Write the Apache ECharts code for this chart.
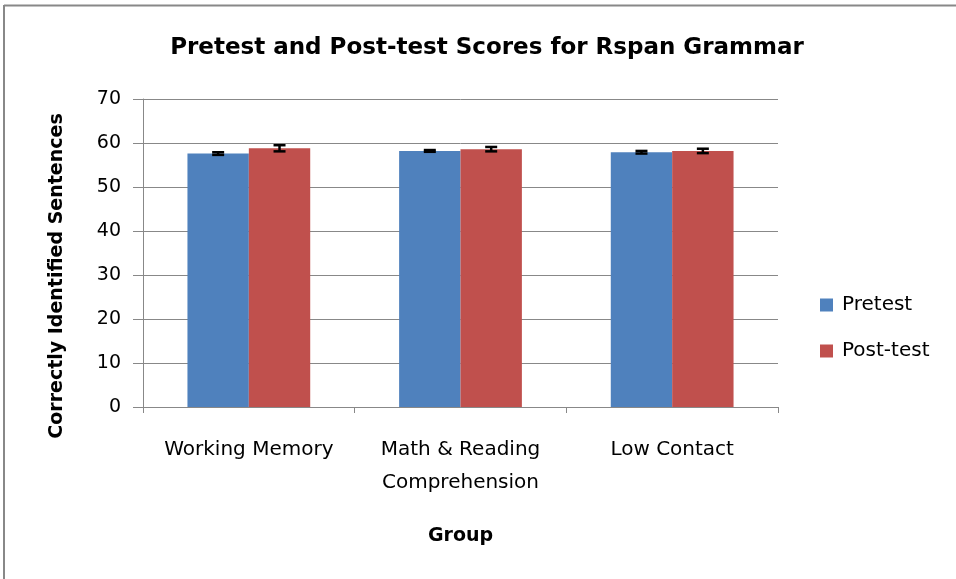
<!DOCTYPE html>
<html>
<head>
  <meta charset="UTF-8">
  <title>Rspan Grammar</title>
  <style>
    html, body { margin: 0; padding: 0; background: #fff; }
    #chart { width: 956px; height: 579px; }
  </style>
</head>
<body>
  <div id="chart"></div>
  <script src="https://cdn.jsdelivr.net/npm/echarts@6/dist/echarts.min.js"></script>
  <script>
    // values
    const groups = ['Working Memory', 'Math & Reading\nComprehension', 'Low Contact'];
    const pretest = [57.6, 58.2, 57.9];
    const posttest = [58.8, 58.6, 58.2];
    const pretestErr = [0.3, 0.2, 0.3];
    const posttestErr = [0.7, 0.5, 0.5];
    const yTicks = [0, 10, 20, 30, 40, 50, 60, 70];

    const font = 'DejaVu Sans';
    const chart = echarts.init(document.getElementById('chart'));

    // error bar drawn around each bar using the axis scale
    function errorBars(values, errs, side) {
      return {
        type: 'custom',
        z: 10,
        data: values.map((v, i) => [i, v, errs[i]]),
        renderItem: function (params, api) {
          const c = api.coord([api.value(0), api.value(1) + api.value(2)]);
          const lo = api.coord([api.value(0), api.value(1) - api.value(2)]);
          const bw = api.size([1, 0])[0] * 0.58 / 2;
          const x = c[0] + side * bw / 2;
          const hw = 6;
          const st = { stroke: '#000', lineWidth: 2.5 };
          return {
            type: 'group',
            children: [
              { type: 'line', shape: { x1: x, y1: c[1], x2: x, y2: lo[1] }, style: st },
              { type: 'line', shape: { x1: x - hw, y1: c[1], x2: x + hw, y2: c[1] }, style: st },
              { type: 'line', shape: { x1: x - hw, y1: lo[1], x2: x + hw, y2: lo[1] }, style: st }
            ]
          };
        }
      };
    }

    const option = {
      animation: false,
      textStyle: { fontFamily: font },
      title: {
        text: 'Pretest and Post-test Scores for Rspan Grammar',
        left: 482,
        textAlign: 'center',
        top: 32,
        textStyle: { fontFamily: font, fontSize: 23, fontWeight: 'bold', color: '#000' }
      },
      legend: {
        orient: 'vertical',
        left: 815,
        top: 290,
        itemWidth: 13,
        itemHeight: 13,
        itemGap: 26,
        icon: 'rect',
        textStyle: { fontFamily: font, fontSize: 20, color: '#000', padding: [0, 0, 0, 4] },
        data: ['Pretest', 'Post-test']
      },
      grid: { left: 143, right: 178, top: 99, bottom: 172 },
      xAxis: {
        type: 'category',
        data: groups,
        name: 'Group',
        nameLocation: 'middle',
        nameGap: 120,
        nameTextStyle: { fontFamily: font, fontSize: 19, fontWeight: 'bold', color: '#000' },
        axisLine: { lineStyle: { color: '#888', width: 1 } },
        axisTick: { show: true, length: 6, lineStyle: { color: '#888' } },
        axisLabel: { fontFamily: font, fontSize: 20, color: '#000', margin: 26, lineHeight: 33, interval: 0 }
      },
      yAxis: {
        type: 'value',
        min: 0,
        max: 70,
        interval: 10,
        name: 'Correctly Identified Sentences',
        nameLocation: 'middle',
        nameGap: 76,
        nameTextStyle: { fontFamily: font, fontSize: 19, fontWeight: 'bold', color: '#000', padding: [0, 46, 0, 0] },
        axisLine: { show: true, lineStyle: { color: '#888' } },
        axisTick: { show: true, length: 10, lineStyle: { color: '#888' } },
        axisLabel: {
          fontFamily: font, fontSize: 19, color: '#000', margin: 22,
          formatter: v => yTicks.includes(v) ? String(v) : ''
        },
        splitLine: { lineStyle: { color: '#888' } }
      },
      series: [
        {
          name: 'Pretest',
          type: 'bar',
          data: pretest,
          barGap: '0%',
          barCategoryGap: '42%',
          itemStyle: { color: '#4f81bd' }
        },
        {
          name: 'Post-test',
          type: 'bar',
          data: posttest,
          itemStyle: { color: '#c0504d' }
        },
        errorBars(pretest, pretestErr, -1),
        errorBars(posttest, posttestErr, 1)
      ],
      graphic: [
        { type: 'line', shape: { x1: 4, y1: 5.5, x2: 956, y2: 5.5 }, style: { stroke: '#888', lineWidth: 2 } },
        { type: 'line', shape: { x1: 4, y1: 5, x2: 4, y2: 579 }, style: { stroke: '#888', lineWidth: 2 } }
      ]
    };
    chart.setOption(option);
  </script>
</body>
</html>
